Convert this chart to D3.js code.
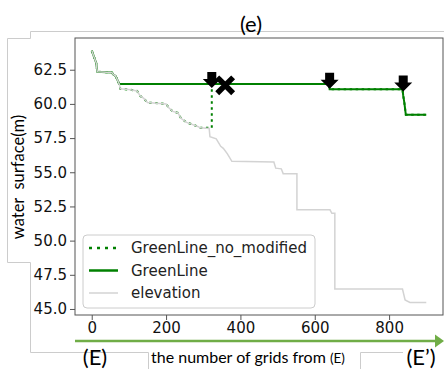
<!DOCTYPE html>
<html>
<head>
<meta charset="utf-8">
<script src="https://cdn.jsdelivr.net/npm/d3@7"></script>
<style>
  body { margin: 0; background: #fff; }
  svg { display: block; }
</style>
</head>
<body>
<script>
// ---- data ----
const elevX = [0, 4, 8, 12, 15, 54, 58, 64, 70, 74, 77, 100, 122, 130, 140, 150, 200, 208, 218, 232, 240, 255, 270, 285, 292, 316, 318, 335, 347, 354, 365, 377, 490, 495, 510, 515, 552, 552, 641, 646, 654, 654, 836, 843, 856, 900];
const elevY = [63.9, 63.6, 63.3, 63.0, 62.35, 62.3, 62.15, 62.05, 61.7, 61.45, 61.1, 61.05, 60.95, 60.6, 60.4, 60.1, 60.0, 59.7, 59.45, 59.35, 58.95, 58.65, 58.5, 58.35, 58.25, 58.2, 57.6, 57.45, 56.9, 56.75, 56.35, 55.8, 55.75, 55.3, 55.25, 54.9, 54.9, 52.25, 52.25, 52.0, 52.0, 46.46, 46.46, 45.66, 45.48, 45.48];

const greenX = [0, 4, 8, 12, 15, 54, 58, 64, 70, 74, 638, 640, 836, 838, 841, 845, 900];
const greenY = [63.9, 63.6, 63.3, 63.0, 62.35, 62.3, 62.15, 62.05, 61.7, 61.45, 61.45, 61.07, 61.07, 60.6, 60.1, 59.2, 59.2];

const noModX = [0, 4, 8, 12, 15, 54, 58, 64, 70, 74, 77, 100, 122, 130, 140, 150, 200, 208, 218, 232, 240, 255, 270, 285, 292, 323, 323, 638, 640, 836, 838, 841, 845, 900];
const noModY = [63.9, 63.6, 63.3, 63.0, 62.35, 62.3, 62.15, 62.05, 61.7, 61.45, 61.1, 61.05, 60.95, 60.6, 60.4, 60.1, 60.0, 59.7, 59.45, 59.35, 58.95, 58.65, 58.5, 58.35, 58.25, 58.25, 61.45, 61.45, 61.07, 61.07, 60.6, 60.1, 59.2, 59.2];

const arrowX = [323, 640, 838];
const arrowY = [61.75, 61.7, 61.5];
const crossX = [359];
const crossY = [61.36];

const xTicks = [0, 200, 400, 600, 800];
const yTicks = [45.0, 47.5, 50.0, 52.5, 55.0, 57.5, 60.0, 62.5];
const legendLabels = ["GreenLine_no_modified", "GreenLine", "elevation"];

// ---- drawing ----
const W = 444, H = 369;
const svg = d3.select("body").append("svg").attr("width", W).attr("height", H);

const x = d3.scaleLinear().domain([-45, 945]).range([75, 443]);
const y = d3.scaleLinear().domain([44.56, 64.82]).range([315, 38]);

const gray = "#cccccc";
const frame = svg.append("g").attr("fill", "none").attr("stroke", gray).attr("stroke-width", 1);
frame.append("path").attr("d", "M30.5,31.5 H444 M30.5,31.5 V38.5 M7.5,38.5 H30.5 M7.5,38.5 V262.5 M7.5,262.5 H30.5 M30.5,262.5 V352.5 M30.5,352.5 H148.5 M148.5,352.5 V369 M360.5,352.5 V369 M360.5,352.5 H403");

svg.append("text").attr("x", 251).attr("y", 32).attr("text-anchor", "middle")
  .attr("font-family", "Lato, 'Open Sans', sans-serif").attr("font-size", 22).attr("fill", "#000").text("(e)");

svg.append("rect").attr("x", 75).attr("y", 38).attr("width", 368).attr("height", 277)
  .attr("fill", "none").attr("stroke", "#555").attr("stroke-width", 1);

const xAxis = svg.append("g").attr("transform", "translate(0,315)")
  .call(d3.axisBottom(x).tickValues(xTicks).tickFormat(d3.format("d")).tickSize(5).tickPadding(2));
const yAxis = svg.append("g").attr("transform", "translate(75,0)")
  .call(d3.axisLeft(y).tickValues(yTicks).tickFormat(d3.format(".1f")).tickSize(5).tickPadding(3));
[xAxis, yAxis].forEach(a => {
  a.select(".domain").remove();
  a.selectAll("line").attr("stroke", "#555");
  a.selectAll("text").attr("font-family", "'DejaVu Sans', sans-serif").attr("font-size", 15).attr("fill", "#111");
});

const line = d3.line().x(d => x(d[0])).y(d => y(d[1]));
const zip = (a, b) => a.map((v, i) => [v, b[i]]);

svg.append("path").datum(zip(noModX, noModY)).attr("d", line)
  .attr("fill", "none").attr("stroke", "#008000").attr("stroke-width", 2).attr("stroke-dasharray", "2.5,3.5");
svg.append("path").datum(zip(greenX, greenY)).attr("d", line)
  .attr("fill", "none").attr("stroke", "#008000").attr("stroke-width", 2);
svg.append("path").datum(zip(elevX, elevY)).attr("d", line)
  .attr("fill", "none").attr("stroke", "#d3d3d3").attr("stroke-width", 1.5);

svg.selectAll("path.arrow").data(zip(arrowX, arrowY)).enter().append("path").attr("class", "arrow")
  .attr("transform", d => `translate(${x(d[0])},${y(d[1])})`)
  .attr("d", "M-4.5,-8 H4.5 V-1 H9 L0,8 L-9,-1 H-4.5 Z").attr("fill", "#000");
const cx = svg.selectAll("g.cross").data(zip(crossX, crossY)).enter().append("g").attr("class", "cross")
  .attr("transform", d => `translate(${x(d[0])},${y(d[1])})`);
cx.append("path").attr("d", "M-6,-6 L6,6 M-6,6 L6,-6").attr("stroke", "#000").attr("stroke-width", 5.5).attr("stroke-linecap", "square");

const lg = svg.append("g");
lg.append("rect").attr("x", 83).attr("y", 235).attr("width", 232).attr("height", 73).attr("rx", 4)
  .attr("fill", "#fff").attr("fill-opacity", 0.8).attr("stroke", "#cccccc");
const rowsY = [248, 270.5, 293];
const styles = [
  {stroke: "#008000", w: 2.5, dash: "3,5"},
  {stroke: "#008000", w: 2.5, dash: null},
  {stroke: "#d3d3d3", w: 1.5, dash: null}
];
legendLabels.forEach((lab, i) => {
  lg.append("line").attr("x1", 89).attr("x2", 118).attr("y1", rowsY[i]).attr("y2", rowsY[i])
    .attr("stroke", styles[i].stroke).attr("stroke-width", styles[i].w).attr("stroke-dasharray", styles[i].dash);
  lg.append("text").attr("x", 131).attr("y", rowsY[i]).attr("dy", "0.35em")
    .attr("font-family", "'DejaVu Sans', sans-serif").attr("font-size", 15).attr("fill", "#222").text(lab);
});

svg.append("text").attr("transform", "translate(24,177) rotate(-90)").attr("text-anchor", "middle")
  .attr("font-family", "Lato, 'Open Sans', sans-serif").attr("font-size", 16.5).attr("fill", "#000")
  .attr("xml:space", "preserve").style("white-space", "pre").text("water  surface(m)");

svg.append("line").attr("x1", 75).attr("x2", 436).attr("y1", 341).attr("y2", 341)
  .attr("stroke", "#70ad47").attr("stroke-width", 2.5);
svg.append("path").attr("d", "M435,334.5 L444,341 L435,347.5 Z").attr("fill", "#70ad47");

svg.append("text").attr("x", 95).attr("y", 365).attr("text-anchor", "middle")
  .attr("font-family", "Lato, 'Open Sans', sans-serif").attr("font-size", 22).attr("fill", "#000").text("(E)");
svg.append("text").attr("x", 421).attr("y", 365).attr("text-anchor", "middle")
  .attr("font-family", "Lato, 'Open Sans', sans-serif").attr("font-size", 22).attr("fill", "#000").text("(E\u2019)");
const xl = svg.append("text").attr("x", 151).attr("y", 363)
  .attr("font-family", "Lato, 'Open Sans', sans-serif").attr("font-size", 16).attr("fill", "#000");
xl.append("tspan").text("the number of grids from ");
xl.append("tspan").attr("font-size", 13.5).text("(E)");
</script>
</body>
</html>
